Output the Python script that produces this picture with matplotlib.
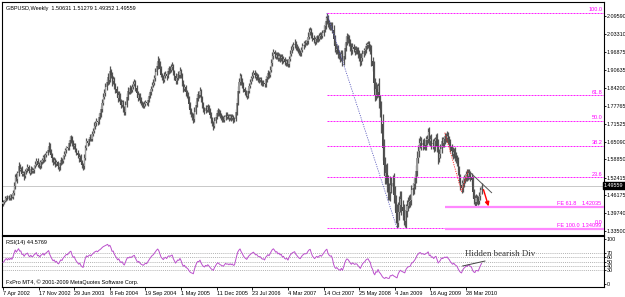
import numpy as np
import matplotlib
matplotlib.use('Agg')
import matplotlib.pyplot as plt
from matplotlib.transforms import blended_transform_factory

plt.rcParams['font.family'] = ['Liberation Sans', 'DejaVu Sans']

# weekly closes before the first visible bar (only used to warm up RSI)
closes_pre = [1.4420, 1.4300, 1.4210, 1.4250, 1.4180, 1.4260, 1.4220,
              1.4150, 1.4240, 1.4300, 1.4220, 1.4280, 1.4350, 1.4260]
first_open = 1.4300

# weekly closes, 7 Apr 2002 .. 27 Jun 2010
closes = [
    1.4380, 1.4420, 1.4510, 1.4560, 1.4500, 1.4580, 1.4530, 1.4610, 1.4560, 1.4690,
    1.4950, 1.5270, 1.5180, 1.5400, 1.5640, 1.5520, 1.5560, 1.5380, 1.5400, 1.5290,
    1.5460, 1.5530, 1.5610, 1.5480, 1.5420, 1.5550, 1.5470, 1.5510, 1.5650, 1.5720,
    1.5840, 1.5690, 1.5730, 1.5640, 1.5790, 1.5850, 1.5970, 1.5880, 1.6040, 1.6120,
    1.6230, 1.6360, 1.6180, 1.6050, 1.5920, 1.5810, 1.5870, 1.5720, 1.5780, 1.5650,
    1.5600, 1.5740, 1.5860, 1.5820, 1.5990, 1.6080, 1.6200, 1.6310, 1.6290, 1.6450,
    1.6580, 1.6660, 1.6490, 1.6350, 1.6410, 1.6250, 1.6120, 1.6030, 1.5920, 1.5980,
    1.5810, 1.5700, 1.5640, 1.5950, 1.6300, 1.6550, 1.6480, 1.6610, 1.6690, 1.6620,
    1.6800, 1.6900, 1.7080, 1.7160, 1.7250, 1.7210, 1.7400, 1.7510, 1.7660, 1.7890,
    1.8100, 1.8250, 1.8440, 1.8620, 1.8810, 1.8710, 1.9020, 1.8880, 1.8650, 1.8720,
    1.8510, 1.8360, 1.8220, 1.8050, 1.8170, 1.7950, 1.7820, 1.7900, 1.7680, 1.7560,
    1.7800, 1.8100, 1.8320, 1.8280, 1.8410, 1.8350, 1.8460, 1.8550, 1.8610, 1.8420,
    1.8230, 1.8070, 1.8150, 1.8000, 1.7890, 1.7830, 1.7780, 1.7850, 1.7920, 1.7880,
    1.7990, 1.8120, 1.8260, 1.8380, 1.8520, 1.8590, 1.8760, 1.8980, 1.9180, 1.9370,
    1.9280, 1.9090, 1.8880, 1.8790, 1.8700, 1.8850, 1.8920, 1.8830, 1.9010, 1.9100,
    1.9060, 1.9150, 1.9200, 1.8990, 1.8840, 1.8660, 1.8780, 1.8900, 1.8870, 1.9030,
    1.8880, 1.8600, 1.8380, 1.8450, 1.8260, 1.8170, 1.8080, 1.7850, 1.7620, 1.7480,
    1.7410, 1.7300, 1.7570, 1.7810, 1.8050, 1.8200, 1.8180, 1.8320, 1.8060, 1.7840,
    1.7680, 1.7600, 1.7720, 1.7650, 1.7750, 1.7620, 1.7460, 1.7290, 1.7180, 1.7070,
    1.7250, 1.7380, 1.7520, 1.7610, 1.7530, 1.7440, 1.7390, 1.7330, 1.7290, 1.7380,
    1.7460, 1.7400, 1.7420, 1.7360, 1.7410, 1.7350, 1.7390, 1.7300, 1.7320, 1.7550,
    1.7890, 1.8320, 1.8610, 1.8830, 1.8660, 1.8540, 1.8380, 1.8260, 1.8190, 1.8120,
    1.8310, 1.8490, 1.8620, 1.8750, 1.8840, 1.8950, 1.8870, 1.8790, 1.8830, 1.8740,
    1.8700, 1.8720, 1.8640, 1.8580, 1.8600, 1.8540, 1.8720, 1.8810, 1.8930, 1.8880,
    1.9050, 1.9290, 1.9560, 1.9680, 1.9610, 1.9520, 1.9580, 1.9470, 1.9550, 1.9460,
    1.9520, 1.9380, 1.9440, 1.9330, 1.9290, 1.9350, 1.9250, 1.9430, 1.9620, 1.9750,
    1.9860, 1.9920, 1.9980, 1.9870, 1.9810, 1.9740, 1.9680, 1.9650, 1.9760, 1.9880,
    1.9950, 2.0020, 2.0010, 2.0060, 2.0230, 2.0380, 2.0450, 2.0310, 2.0180, 2.0110,
    2.0050, 2.0140, 2.0200, 2.0150, 2.0240, 2.0300, 2.0260, 2.0350, 2.0480, 2.0610,
    2.0780, 2.0890, 2.0720, 2.0640, 2.0590, 2.0620, 2.0480, 2.0150, 1.9880, 1.9750,
    1.9800, 1.9650, 1.9580, 1.9490, 1.9600, 1.9380, 1.9550, 1.9820, 2.0050, 2.0200,
    2.0150, 2.0020, 1.9880, 1.9750, 1.9860, 1.9790, 1.9720, 1.9770, 1.9740, 1.9610,
    1.9500, 1.9360, 1.9480, 1.9620, 1.9710, 1.9760, 1.9880, 1.9940, 1.9970, 1.9850,
    1.9760, 1.9380, 1.9180, 1.8580, 1.8160, 1.8380, 1.8270, 1.8490, 1.7950, 1.7640,
    1.7120, 1.6300, 1.5700, 1.5300, 1.5420, 1.5050, 1.4740, 1.4720, 1.4990, 1.4960,
    1.5040, 1.4640, 1.4380, 1.3980, 1.3650, 1.4030, 1.4280, 1.4470, 1.4210, 1.4050,
    1.3880, 1.3710, 1.4060, 1.4250, 1.4380, 1.4420, 1.4460, 1.4800, 1.4870, 1.5020,
    1.5220, 1.5480, 1.5930, 1.6180, 1.6450, 1.6520, 1.6380, 1.6470, 1.6410, 1.6390,
    1.6560, 1.6620, 1.6840, 1.6530, 1.6620, 1.6420, 1.6480, 1.6330, 1.6520, 1.6610,
    1.6330, 1.5950, 1.6080, 1.6260, 1.6540, 1.6480, 1.6590, 1.6680, 1.6630, 1.6720,
    1.6590, 1.6490, 1.6310, 1.6180, 1.6060, 1.6150, 1.6010, 1.5920, 1.5830, 1.5520,
    1.5230, 1.4990, 1.4860, 1.5060, 1.5180, 1.5250, 1.5370, 1.5280, 1.5420, 1.5330,
    1.5260, 1.5140, 1.4720, 1.4480, 1.4370, 1.4510, 1.4480, 1.4420, 1.4600, 1.4790,
    1.4956,
]

# upper / lower shadows in pips
wick_up = [
    60, 45, 80, 35, 70, 55, 90, 40, 65, 110,
    150, 90, 120, 60, 140, 75, 50, 95, 60, 85,
    70, 55, 110, 80, 45, 90, 60, 75, 50, 100,
    95, 80, 60, 120, 55, 70, 85, 95, 60, 75,
    110, 140, 90, 60, 75, 50, 85, 65, 90, 55,
    70, 60, 95, 80, 55, 100, 75, 65, 90, 110,
    120, 95, 60, 85, 70, 65, 50, 90, 75, 60,
    80, 55, 70, 130, 110, 90, 60, 85, 95, 75,
    100, 85, 120, 70, 95, 80, 110, 90, 120, 140,
    130, 110, 150, 120, 140, 90, 180, 75, 95, 120,
    80, 70, 110, 95, 120, 60, 85, 100, 70, 95,
    140, 150, 120, 90, 110, 85, 75, 95, 110, 70,
    95, 80, 100, 75, 85, 60, 70, 90, 80, 65,
    110, 120, 95, 100, 90, 130, 120, 140, 150, 160,
    90, 70, 85, 60, 75, 110, 95, 80, 120, 100,
    85, 110, 120, 75, 60, 90, 100, 110, 80, 120,
    70, 65, 90, 110, 80, 75, 85, 60, 70, 90,
    95, 110, 160, 130, 140, 95, 110, 120, 70, 85,
    90, 75, 95, 80, 110, 65, 70, 85, 90, 75,
    130, 110, 100, 85, 75, 90, 70, 80, 95, 85,
    100, 90, 80, 75, 95, 70, 85, 60, 80, 120,
    160, 170, 150, 120, 90, 100, 85, 75, 90, 80,
    110, 100, 120, 95, 130, 110, 85, 90, 100, 80,
    75, 95, 85, 70, 90, 80, 120, 100, 110, 95,
    130, 150, 140, 120, 90, 85, 100, 95, 110, 80,
    100, 85, 90, 75, 110, 95, 80, 120, 130, 140,
    120, 110, 150, 85, 90, 100, 75, 80, 110, 120,
    110, 95, 100, 120, 160, 140, 110, 85, 90, 100,
    110, 120, 100, 95, 130, 110, 90, 120, 150, 130,
    180, 175, 120, 100, 90, 110, 140, 150, 120, 130,
    150, 120, 100, 95, 140, 160, 120, 180, 190, 160,
    120, 140, 130, 110, 150, 120, 100, 110, 90, 120,
    130, 140, 160, 150, 110, 95, 120, 100, 90, 110,
    120, 160, 140, 200, 180, 250, 160, 100, 260, 230,
    320, 380, 300, 260, 290, 350, 280, 300, 320, 260,
    280, 350, 300, 260, 310, 350, 320, 290, 280, 250,
    260, 220, 240, 200, 180, 190, 210, 170, 180, 190,
    160, 200, 240, 220, 200, 180, 160, 140, 170, 150,
    160, 140, 150, 180, 130, 150, 140, 160, 150, 170,
    200, 260, 180, 170, 150, 140, 130, 150, 140, 160,
    150, 140, 130, 120, 140, 150, 160, 120, 130, 150,
    140, 130, 160, 150, 140, 130, 120, 180, 120, 130,
    140, 150, 160, 130, 150, 140, 120, 110, 130, 120,
    110,
]
wick_dn = [
    55, 70, 40, 85, 60, 50, 75, 90, 45, 60,
    80, 110, 70, 130, 90, 60, 85, 100, 70, 120,
    60, 90, 75, 85, 100, 55, 80, 70, 95, 60,
    70, 90, 110, 85, 60, 75, 95, 80, 65, 85,
    90, 70, 120, 95, 110, 130, 80, 90, 75, 100,
    120, 85, 60, 95, 70, 80, 65, 90, 75, 60,
    85, 110, 130, 95, 100, 120, 90, 85, 110, 75,
    95, 120, 130, 80, 70, 95, 110, 75, 90, 85,
    70, 95, 85, 110, 80, 100, 75, 90, 110, 85,
    95, 80, 110, 90, 120, 150, 100, 130, 160, 110,
    120, 130, 110, 140, 95, 120, 110, 85, 130, 120,
    90, 75, 110, 85, 95, 120, 90, 80, 75, 110,
    130, 120, 85, 110, 95, 100, 80, 75, 90, 85,
    95, 80, 70, 85, 75, 90, 80, 100, 95, 110,
    120, 110, 95, 100, 110, 85, 90, 120, 75, 95,
    110, 90, 85, 120, 130, 100, 95, 80, 110, 90,
    120, 130, 110, 85, 120, 100, 95, 140, 120, 110,
    130, 140, 90, 80, 75, 100, 110, 85, 140, 120,
    110, 100, 85, 95, 80, 110, 120, 130, 110, 130,
    90, 85, 80, 95, 110, 90, 100, 110, 95, 80,
    85, 100, 90, 110, 85, 95, 80, 110, 90, 70,
    90, 80, 95, 110, 130, 120, 110, 100, 95, 110,
    80, 75, 90, 85, 95, 80, 110, 100, 85, 110,
    95, 85, 110, 100, 85, 110, 90, 80, 95, 100,
    85, 80, 90, 110, 120, 100, 95, 110, 90, 120,
    95, 110, 90, 120, 100, 95, 110, 85, 80, 90,
    85, 90, 80, 110, 100, 95, 110, 120, 90, 85,
    80, 90, 95, 85, 80, 95, 110, 120, 100, 110,
    120, 95, 100, 110, 90, 85, 110, 95, 90, 85,
    110, 90, 150, 130, 120, 110, 140, 200, 180, 150,
    130, 160, 140, 150, 120, 180, 140, 110, 100, 120,
    130, 140, 150, 160, 130, 120, 140, 110, 130, 150,
    140, 160, 120, 110, 100, 130, 110, 90, 120, 130,
    140, 200, 180, 250, 220, 160, 200, 190, 240, 260,
    300, 420, 350, 300, 280, 320, 300, 260, 300, 280,
    260, 310, 290, 330, 190, 150, 300, 240, 290, 310,
    320, 200, 250, 220, 200, 230, 210, 190, 180, 200,
    180, 160, 170, 190, 200, 170, 180, 160, 150, 180,
    170, 150, 160, 140, 170, 160, 150, 180, 140, 150,
    180, 220, 170, 160, 150, 140, 170, 150, 140, 130,
    150, 160, 170, 160, 150, 140, 170, 160, 180, 200,
    190, 180, 160, 130, 150, 140, 130, 160, 140, 150,
    150, 170, 200, 180, 170, 150, 160, 140, 130, 140,
    120,
]

date_labels = ['7 Apr 2002', '17 Nov 2002', '29 Jun 2003', '8 Feb 2004',
               '19 Sep 2004', '1 May 2005', '11 Dec 2005', '23 Jul 2006',
               '4 Mar 2007', '14 Oct 2007', '25 May 2008', '4 Jan 2009',
               '16 Aug 2009', '28 Mar 2010']
date_weeks = [i * 32 for i in range(len(date_labels))]

price_ticks = [2.09590, 2.03310, 1.96875, 1.90635, 1.84200, 1.77765, 1.71525,
               1.65090, 1.58850, 1.52415, 1.46175, 1.39740, 1.33500]
rsi_ticks = [0, 30, 40, 50, 60, 70, 100]
rsi_levels = [30, 40, 50, 60, 70]

last_price = 1.49559
header = 'GBPUSD,Weekly  1.50631 1.51279 1.49352 1.49559'

# fibonacci retracement anchors (week, price)
fib_hi = (291, 2.1065)
fib_lo = (354, 1.3456)
fib_pcts = [100.0, 61.8, 50.0, 38.2, 23.6, 0.0]

# fibonacci expansion points A, B, C
fe_a = (397, 1.6830)
fe_b = (412, 1.4753)
fe_c = (418, 1.5487)
fe_ratios = [0.618, 1.0]
fe_texts = [('FE 61.8', '1.42035'), ('FE 100.0', '1.34099')]

# hand drawn objects (week, value)
trend_main = [(418, 1.5487), (439, 1.4708)]
arrow_main = [(431, 1.4908), (437, 1.4130)]
trend_rsi = [(413, 40.0), (433, 51.0)]

# ---------------------------------------------------------------------------
closes = np.array(closes)
opens = np.concatenate([[first_open], closes[:-1]])
highs = np.maximum(opens, closes) + np.array(wick_up) / 10000.0
lows = np.minimum(opens, closes) - np.array(wick_dn) / 10000.0
weeks = np.arange(len(closes))

# RSI(14), Wilder smoothing
full = np.concatenate([closes_pre, closes])
d = np.diff(full)
gain = np.clip(d, 0, None)
loss = np.clip(-d, 0, None)
ag, al = gain[:14].mean(), loss[:14].mean()
rsi = [100 - 100 / (1 + ag / al)]
for i in range(14, len(d)):
    ag = (ag * 13 + gain[i]) / 14
    al = (al * 13 + loss[i]) / 14
    rsi.append(100 - 100 / (1 + ag / al))
rsi = np.array(rsi)

W, H = 625, 297
fig = plt.figure(figsize=(W / 100, H / 100), dpi=100)
fig.patch.set_facecolor('white')

def frac(x0, y0, x1, y1):
    return [x0 / W, 1 - y1 / H, (x1 - x0) / W, (y1 - y0) / H]

ax = fig.add_axes(frac(2, 2, 604, 235))
ax2 = fig.add_axes(frac(2, 236, 604, 287), sharex=ax)

xmin, xmax = -0.9, 540
ax.set_xlim(xmin, xmax)
ax.set_ylim(1.3210, 2.1454)
ax2.set_ylim(-6.7, 106.7)

dots = (0, (1.4, 1.4))
fib_dash = (0, (2.0, 1.0))

# current price line
ax.axhline(last_price, color='#c8c8c8', lw=0.7, zorder=0)

# candles
up = closes >= opens
ax.vlines(weeks, lows, highs, color='#555555', lw=0.9, zorder=2)
ax.bar(weeks[up], (closes - opens)[up], bottom=opens[up], width=1.0,
       color='#9a9a9a', edgecolor='none', zorder=3)
ax.bar(weeks[~up], (opens - closes)[~up], bottom=closes[~up], width=1.0,
       color='#4a4a4a', edgecolor='none', zorder=3)

# fibonacci retracement
ax.plot([fib_hi[0], fib_lo[0]], [fib_hi[1], fib_lo[1]], color='#6060c0',
        lw=0.6, ls=dots, zorder=4)
tr = blended_transform_factory(ax.transAxes, ax.transData)
for p in fib_pcts:
    lvl = fib_lo[1] + p / 100.0 * (fib_hi[1] - fib_lo[1])
    ax.plot([fib_hi[0], xmax], [lvl, lvl], color='#ff22ff', lw=0.72,
            ls=fib_dash, snap=True, zorder=4)
    dy = 0.012 if p == 0.0 else 0.002
    ax.text(0.997, lvl + dy, '%.1f' % p, transform=tr, ha='right',
            va='bottom', fontsize=4, color='#ff00ff')

# fibonacci expansion
ax.plot([fe_a[0], fe_b[0], fe_c[0]], [fe_a[1], fe_b[1], fe_c[1]],
        color='#ff2020', lw=0.6, ls=dots, zorder=5)
fe_rng = fe_a[1] - fe_b[1]
fe_left = (557 - 3) / 1.113
for r, (name, val) in zip(fe_ratios, fe_texts):
    lvl = fe_c[1] - r * fe_rng
    ax.plot([fe_a[0], xmax], [lvl, lvl], color='#ff88ff', lw=1.6, zorder=4,
            solid_capstyle='butt')
    ax.text(fe_left, lvl + 0.003, name, ha='left', va='bottom', fontsize=4,
            color='#ff00ff')
    ax.text(0.997, lvl + 0.003, val, transform=tr, ha='right', va='bottom',
            fontsize=4, color='#ff00ff')

# trend line and arrow
ax.plot(*zip(*trend_main), color='#555555', lw=0.7, zorder=6)
ax.annotate('', xy=arrow_main[1], xytext=arrow_main[0],
            arrowprops=dict(arrowstyle='-|>', color='#ff0000', lw=1.0,
                            mutation_scale=6), zorder=6)

# price axis
ax.yaxis.tick_right()
ax.set_yticks(price_ticks)
ax.set_yticklabels(['%.5f' % v for v in price_ticks])
ax.tick_params(axis='y', direction='out', length=1.5, width=0.6, pad=0.5,
               labelsize=3.9)
ax.tick_params(axis='x', bottom=False, labelbottom=False)
ax.text(1.0, last_price, '1.49559', transform=tr, ha='left', va='center',
        fontsize=3.9, color='white',
        bbox=dict(boxstyle='square,pad=0.2', fc='black', ec='black'))

ax.text(4 / 602, 1 - 4 / 233, header, transform=ax.transAxes, ha='left',
        va='top', fontsize=4, color='black')

# RSI panel
for lv in rsi_levels:
    ax2.axhline(lv, color='#999999', lw=0.5, ls=(0, (1.5, 1.5)), zorder=1)
ax2.plot(weeks, rsi, color='#bb50cc', lw=0.7, zorder=3)
ax2.plot(*zip(*trend_rsi), color='#444444', lw=0.7, zorder=4)
ax2.text((465 - 3) / 1.113, 66, 'Hidden bearish Div', ha='left', va='center',
         fontsize=6.4, family='Liberation Serif', color='#333333')
ax2.text(4 / 602, 0.92, 'RSI(14) 44.5769', transform=ax2.transAxes,
         ha='left', va='top', fontsize=4, color='black')
ax2.text(4 / 602, 0.03, 'FxPro MT4, \u00a9 2001-2009 MetaQuotes Software Corp.',
         transform=ax2.transAxes, ha='left', va='bottom', fontsize=4,
         color='black')

ax2.yaxis.tick_right()
ax2.set_yticks(rsi_ticks)
ax2.set_yticklabels([str(v) for v in rsi_ticks])
ax2.tick_params(axis='y', direction='out', length=1.5, width=0.6, pad=0.5,
                labelsize=3.9)
ax2.set_xticks(date_weeks)
ax2.set_xticklabels(date_labels)
for t in ax2.get_xticklabels():
    t.set_horizontalalignment('left')
ax2.tick_params(axis='x', direction='out', length=2, width=0.6, pad=1,
                labelsize=4)

for a in (ax, ax2):
    for s in a.spines.values():
        s.set_linewidth(0.8)
        s.set_color('black')

fig.savefig('out.png', dpi=100)
